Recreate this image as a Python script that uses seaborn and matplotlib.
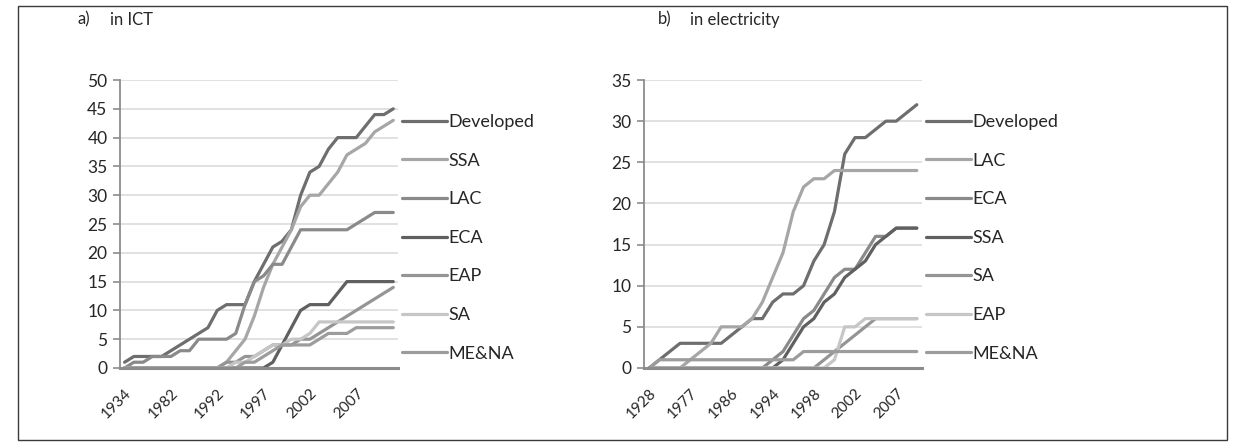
import numpy as np
import pandas as pd
import matplotlib.pyplot as plt
import seaborn as sns
from matplotlib.patches import Rectangle

# ---- panel a) in ICT : categories (years) ----
ict_years = ["1934", "1960", "1965", "1970", "1975", "1982", "1984", "1986", "1988", "1990",
             "1992", "1993", "1994", "1995", "1996", "1997", "1998", "1999", "2000", "2001",
             "2002", "2003", "2004", "2005", "2006", "2007", "2008", "2009", "2010", "2011"]
ict_developed = [1, 2, 2, 2, 2, 3, 4, 5, 6, 7, 10, 11, 11, 11, 15, 18, 21, 22, 24, 30,
                 34, 35, 38, 40, 40, 40, 42, 44, 44, 45]
ict_ssa = [0, 0, 0, 0, 0, 0, 0, 0, 0, 0, 0, 1, 3, 5, 9, 14, 18, 21, 24, 28,
           30, 30, 32, 34, 37, 38, 39, 41, 42, 43]
ict_lac = [0, 1, 1, 2, 2, 2, 3, 3, 5, 5, 5, 5, 6, 11, 15, 16, 18, 18, 21, 24,
           24, 24, 24, 24, 24, 25, 26, 27, 27, 27]
ict_eca = [0, 0, 0, 0, 0, 0, 0, 0, 0, 0, 0, 0, 0, 0, 0, 0, 1, 4, 7, 10,
           11, 11, 11, 13, 15, 15, 15, 15, 15, 15]
ict_eap = [0, 0, 0, 0, 0, 0, 0, 0, 0, 0, 0, 1, 1, 2, 2, 3, 4, 4, 4, 5,
           5, 6, 7, 8, 9, 10, 11, 12, 13, 14]
ict_sa = [0, 0, 0, 0, 0, 0, 0, 0, 0, 0, 0, 0, 1, 1, 2, 3, 4, 4, 5, 5,
          6, 8, 8, 8, 8, 8, 8, 8, 8, 8]
ict_mena = [0, 0, 0, 0, 0, 0, 0, 0, 0, 0, 0, 0, 0, 1, 1, 2, 3, 4, 4, 4,
            4, 5, 6, 6, 6, 7, 7, 7, 7, 7]
ict_order = ["Developed", "SSA", "LAC", "ECA", "EAP", "SA", "ME&NA"]

# ---- panel b) in electricity ----
el_years = ["1928", "1960", "1965", "1970", "1977", "1979", "1981", "1984", "1986", "1988",
            "1990", "1992", "1994", "1995", "1996", "1997", "1998", "1999", "2000", "2001",
            "2002", "2003", "2004", "2005", "2007", "2008", "2009"]
el_developed = [0, 1, 2, 3, 3, 3, 3, 3, 4, 5, 6, 6, 8, 9, 9, 10, 13, 15, 19, 26,
                28, 28, 29, 30, 30, 31, 32]
el_lac = [0, 0, 0, 0, 1, 2, 3, 5, 5, 5, 6, 8, 11, 14, 19, 22, 23, 23, 24, 24,
          24, 24, 24, 24, 24, 24, 24]
el_eca = [0, 0, 0, 0, 0, 0, 0, 0, 0, 0, 0, 0, 1, 2, 4, 6, 7, 9, 11, 12,
          12, 14, 16, 16, 17, 17, 17]
el_ssa = [0, 0, 0, 0, 0, 0, 0, 0, 0, 0, 0, 0, 0, 1, 3, 5, 6, 8, 9, 11,
          12, 13, 15, 16, 17, 17, 17]
el_sa = [0, 0, 0, 0, 0, 0, 0, 0, 0, 0, 0, 0, 0, 0, 0, 0, 0, 1, 2, 3,
         4, 5, 6, 6, 6, 6, 6]
el_eap = [0, 0, 0, 0, 0, 0, 0, 0, 0, 0, 0, 0, 0, 0, 0, 0, 0, 0, 1, 5,
          5, 6, 6, 6, 6, 6, 6]
el_mena = [0, 1, 1, 1, 1, 1, 1, 1, 1, 1, 1, 1, 1, 1, 1, 2, 2, 2, 2, 2,
           2, 2, 2, 2, 2, 2, 2]
el_order = ["Developed", "LAC", "ECA", "SSA", "SA", "EAP", "ME&NA"]

# Excel style greys, by series position
greys = ["#6e6e6e", "#a6a6a6", "#8a8a8a", "#606060", "#959595", "#c6c6c6", "#9c9c9c"]
txt = "#262626"


def long_frame(years, series, names):
    rows = []
    for name, vals in zip(names, series):
        rows.append(pd.DataFrame({"year": years, "count": vals, "region": name}))
    return pd.concat(rows, ignore_index=True)


df_ict = long_frame(ict_years, [ict_developed, ict_ssa, ict_lac, ict_eca, ict_eap, ict_sa, ict_mena], ict_order)
df_el = long_frame(el_years, [el_developed, el_lac, el_eca, el_ssa, el_sa, el_eap, el_mena], el_order)

sns.set_style("white")
plt.rcParams["font.family"] = ["Lato", "DejaVu Sans"]

fig = plt.figure(figsize=(12.38, 4.48), dpi=100)
ax1 = fig.add_axes([0.0969, 0.1786, 0.2245, 0.6428])
ax2 = fig.add_axes([0.5202, 0.1786, 0.2245, 0.6428])


def draw_panel(ax, df, years, order, ymax, label_step, tag, title, tag_x, title_x):
    sns.lineplot(data=df, x="year", y="count", hue="region", hue_order=order,
                 palette=dict(zip(order, greys)), linewidth=2.3, sort=False, ax=ax)
    ax.set_xlim(-0.5, len(years) - 0.5)
    ax.set_ylim(0, ymax)
    ax.set_yticks(np.arange(0, ymax + 1, 5))
    ax.set_xticks(range(0, len(years), label_step))
    ax.set_xticklabels(years[::label_step], rotation=45, ha="right", rotation_mode="anchor")
    ax.grid(axis="y", color="#dcdcdc", linewidth=1.2)
    ax.set_axisbelow(True)
    for side in ["top", "right"]:
        ax.spines[side].set_visible(False)
    ax.spines["left"].set_color("#8c8c8c")
    ax.spines["left"].set_linewidth(1.3)
    ax.spines["bottom"].set_color("#8c8c8c")
    ax.spines["bottom"].set_linewidth(2.2)
    ax.tick_params(axis="y", length=5, width=1.2, color="#8c8c8c", labelsize=12.5,
                   labelcolor=txt, pad=4, left=True)
    ax.tick_params(axis="x", length=0, labelsize=11, labelcolor=txt, pad=13)
    ax.set_xlabel("")
    ax.set_ylabel("")
    ax.legend(loc="center left", bbox_to_anchor=(0.99, 0.452), frameon=False,
              handlelength=2.45, handletextpad=0.1, labelspacing=1.25, fontsize=13,
              borderaxespad=0)
    for t in ax.get_legend().get_texts():
        t.set_color(txt)
    ax.text(tag_x, 1.21, tag, transform=ax.transAxes, fontsize=12, color=txt,
            va="center", ha="left")
    ax.text(title_x, 1.21, title, transform=ax.transAxes, fontsize=12, color=txt,
            va="center", ha="left")


draw_panel(ax1, df_ict, ict_years, ict_order, 50, 5, "a)", "in ICT", -0.152, -0.036)
draw_panel(ax2, df_el, el_years, el_order, 35, 4, "b)", "in electricity", 0.05, 0.165)

# outer frame
fig.patches.append(Rectangle((0.0145, 0.018), 0.977, 0.968, transform=fig.transFigure,
                             fill=False, edgecolor="#3a3a3a", linewidth=1))

fig.savefig("out.png", dpi=100)
